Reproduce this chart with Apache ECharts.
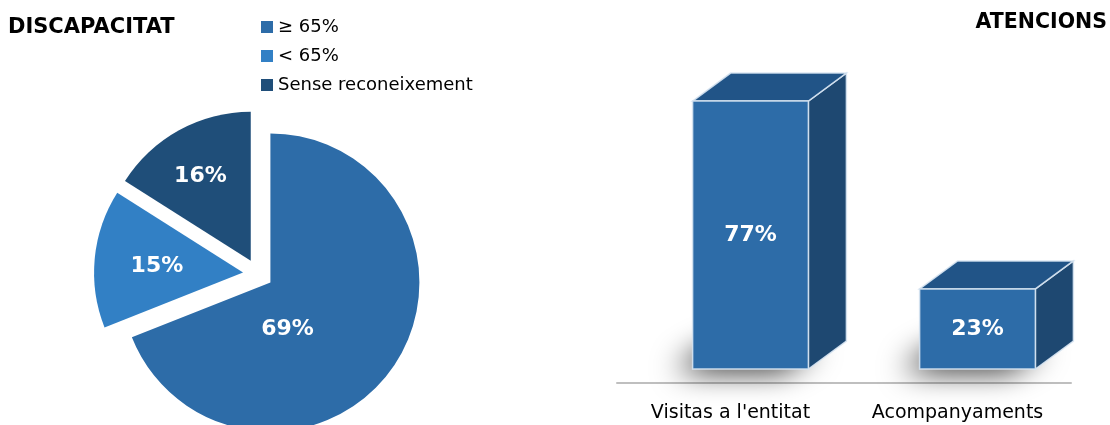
<!DOCTYPE html>
<html>
<head>
<meta charset="utf-8">
<script src="https://cdn.jsdelivr.net/npm/echarts@6/dist/echarts.min.js"></script>
<style>
  html, body { margin: 0; padding: 0; background: #fff; }
  #chart { width: 1110px; height: 425px; }
</style>
</head>
<body>
<div id="chart"></div>
<script>
// 데이터
const pieNames = ['≥ 65%', '< 65%', 'Sense reconeixement'];
const pieValues = [69, 15, 16];
const barCategories = ["Visitas a l'entitat", 'Acompanyaments'];
const barValues = [77, 23];

const FONT = '"DejaVu Sans", sans-serif';
const PIE_COLORS = ['#2D6CA8', '#3280C5', '#1F4E79'];
const BAR_FRONT = '#2D6CA8';
const BAR_TOP = '#215487';
const BAR_SIDE = '#1E4871';

// 3D 막대 깊이 (px)
const DEPTH_X = 38;
const DEPTH_Y = -28;

// 파이 라벨 미세 조정 (엑셀 위치 맞춤)
const pieLabelShift = [[-47, 3], [-9, 1], [-13, -17]];

const chart = echarts.init(document.getElementById('chart'));

function render3DBar(params, api) {
    const cat = api.value(0);
    const val = api.value(1);
    const base = api.coord([cat, 0]);
    const top = api.coord([cat, val]);
    const band = api.size([1, 0])[0];
    const w = band * 0.51;
    const x0 = base[0] - w / 2 + 20;
    const x1 = x0 + w;
    const yb = base[1];
    const yt = top[1];
    const edge = { stroke: 'rgba(215,228,242,0.9)', lineWidth: 1.5 };

    return {
        type: 'group',
        children: [
            {
                // 바닥 그림자
                type: 'polygon',
                shape: { points: [[x0 + 4, yb - 2], [x1 - 4, yb - 2], [x1 + DEPTH_X - 6, yb + DEPTH_Y + 4], [x0 + DEPTH_X, yb + DEPTH_Y + 4]] },
                style: {
                    fill: '#777',
                    shadowBlur: 30,
                    shadowColor: 'rgba(0,0,0,1)',
                    shadowOffsetX: -22,
                    shadowOffsetY: 3
                },
                silent: true
            },
            {
                type: 'polygon',
                shape: { points: [[x1, yt], [x1 + DEPTH_X, yt + DEPTH_Y], [x1 + DEPTH_X, yb + DEPTH_Y], [x1, yb]] },
                style: Object.assign({ fill: BAR_SIDE }, edge)
            },
            {
                type: 'polygon',
                shape: { points: [[x0, yt], [x0 + DEPTH_X, yt + DEPTH_Y], [x1 + DEPTH_X, yt + DEPTH_Y], [x1, yt]] },
                style: Object.assign({ fill: BAR_TOP }, edge)
            },
            {
                type: 'rect',
                shape: { x: x0, y: yt, width: w, height: yb - yt },
                style: Object.assign({ fill: BAR_FRONT }, edge)
            },
            {
                type: 'text',
                style: {
                    x: (x0 + x1) / 2,
                    y: (yt + yb) / 2,
                    text: val + '%',
                    fill: '#fff',
                    font: 'bold 22px ' + FONT,
                    align: 'center',
                    verticalAlign: 'middle'
                }
            }
        ]
    };
}

const option = {
    animation: false,
    title: [
        {
            text: 'DISCAPACITAT',
            left: 8,
            top: 17,
            padding: 0,
            textStyle: { fontFamily: FONT, fontWeight: 'bold', fontSize: 21, color: '#000' }
        },
        {
            text: 'ATENCIONS',
            right: 3,
            top: 12,
            padding: 0,
            textStyle: { fontFamily: FONT, fontWeight: 'bold', fontSize: 20.5, color: '#000' }
        }
    ],
    legend: {
        data: pieNames,
        orient: 'vertical',
        left: 261,
        top: 18,
        padding: 0,
        itemWidth: 12,
        itemHeight: 12,
        itemGap: 11,
        icon: 'rect',
        textStyle: { fontFamily: FONT, fontSize: 18, color: '#000' },
        selectedMode: false
    },
    grid: { left: 617, right: 39, top: 21, bottom: 56 },
    xAxis: {
        type: 'category',
        data: barCategories,
        offset: 14,
        axisLine: { onZero: false, lineStyle: { color: '#BFBFBF', width: 2 } },
        axisTick: { show: false },
        axisLabel: { fontFamily: FONT, fontSize: 19, color: '#000', margin: 21 }
    },
    yAxis: {
        type: 'value',
        min: 0,
        max: 100,
        show: false
    },
    series: [
        {
            type: 'pie',
            center: [258, 274],
            radius: 149,
            startAngle: 90,
            clockwise: true,
            selectedMode: 'multiple',
            selectedOffset: 15,
            data: pieNames.map((n, i) => ({
                name: n,
                value: pieValues[i],
                selected: true,
                itemStyle: { color: PIE_COLORS[i] }
            })),
            label: {
                position: 'inside',
                formatter: '{c}%',
                color: '#fff',
                fontFamily: FONT,
                fontWeight: 'bold',
                fontSize: 22
            },
            labelLayout: (p) => ({ dx: pieLabelShift[p.dataIndex][0], dy: pieLabelShift[p.dataIndex][1] }),
            emphasis: { disabled: true }
        },
        {
            type: 'custom',
            renderItem: render3DBar,
            data: barValues.map((v, i) => [i, v]),
            encode: { x: 0, y: 1 },
            clip: false
        }
    ]
};

chart.setOption(option);
</script>
</body>
</html>
